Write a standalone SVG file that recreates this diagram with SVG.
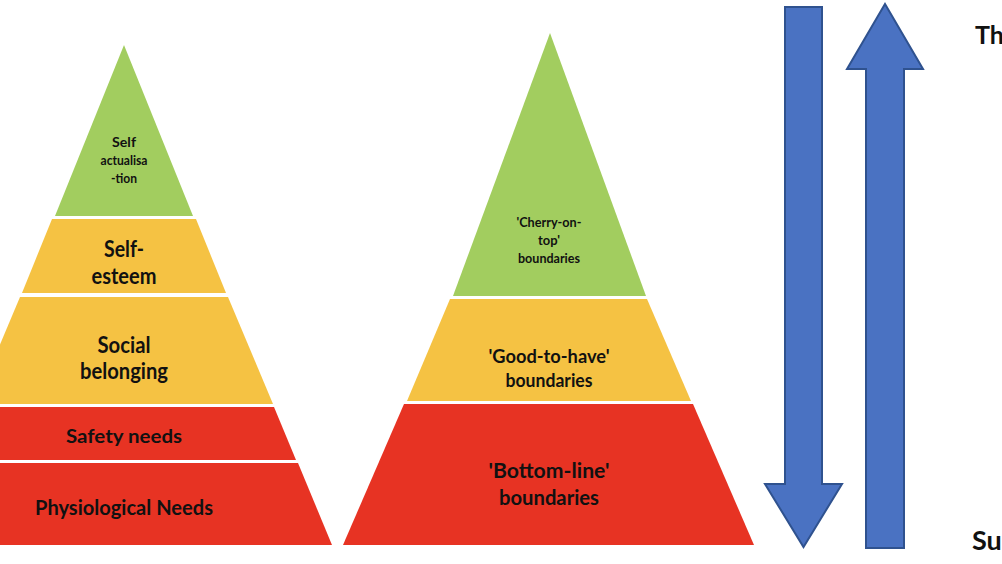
<svg xmlns="http://www.w3.org/2000/svg" width="1002" height="564" viewBox="0 0 1002 564">
<style>
.g{fill:#A2CD5F}
.y{fill:#F5C243}
.r{fill:#E73323}
.arr{fill:#4A72C2;stroke:#2F528F;stroke-width:2;stroke-linejoin:miter}
text{font-family:Lato,"Open Sans","Liberation Sans",sans-serif;font-weight:bold;fill:#111;text-anchor:middle}
</style>
<rect width="1002" height="564" fill="#fff"/>
<g id="maslow">
<g id="self-actualisation">
<polygon class="g" points="124,45 193,216 55,216"/>
<text font-size="13.5"><tspan x="124" y="147" textLength="24" lengthAdjust="spacingAndGlyphs">Self</tspan><tspan x="124" y="165" textLength="47" lengthAdjust="spacingAndGlyphs">actualisa</tspan><tspan x="124" y="183" textLength="26" lengthAdjust="spacingAndGlyphs">-tion</tspan></text>
</g>
<g id="self-esteem">
<polygon class="y" points="52,219 196,219 226,293 22,293"/>
<text font-size="22"><tspan x="124" y="257" textLength="40" lengthAdjust="spacingAndGlyphs">Self-</tspan><tspan x="124" y="284" textLength="65" lengthAdjust="spacingAndGlyphs">esteem</tspan></text>
</g>
<g id="social-belonging">
<polygon class="y" points="20,297 228,297 273,404 -25,404"/>
<text font-size="22"><tspan x="124" y="353" textLength="53" lengthAdjust="spacingAndGlyphs">Social</tspan><tspan x="124" y="379" textLength="88" lengthAdjust="spacingAndGlyphs">belonging</tspan></text>
</g>
<g id="safety-needs">
<polygon class="r" points="-26,407 274,407 296,460 -48,460"/>
<text x="124" y="443" font-size="19" textLength="116" lengthAdjust="spacingAndGlyphs">Safety needs</text>
</g>
<g id="physiological-needs">
<polygon class="r" points="-50,463 298,463 332,545 -84,545"/>
<text x="124" y="515" font-size="20" textLength="178" lengthAdjust="spacingAndGlyphs">Physiological Needs</text>
</g>
</g>
<g id="boundaries">
<g id="cherry-on-top">
<polygon class="g" points="550,33 646,296 453,296"/>
<text font-size="13.5"><tspan x="549" y="227" textLength="65" lengthAdjust="spacingAndGlyphs">'Cherry-on-</tspan><tspan x="549" y="245" textLength="22" lengthAdjust="spacingAndGlyphs">top'</tspan><tspan x="549" y="263" textLength="62" lengthAdjust="spacingAndGlyphs">boundaries</tspan></text>
</g>
<g id="good-to-have">
<polygon class="y" points="450,299 647,299 691,401 407,401"/>
<text font-size="19"><tspan x="549" y="363" textLength="121" lengthAdjust="spacingAndGlyphs">'Good-to-have'</tspan><tspan x="549" y="387" textLength="87" lengthAdjust="spacingAndGlyphs">boundaries</tspan></text>
</g>
<g id="bottom-line">
<polygon class="r" points="404,404 693,404 754,545 343,545"/>
<text font-size="21.5"><tspan x="549" y="478" textLength="121" lengthAdjust="spacingAndGlyphs">'Bottom-line'</tspan><tspan x="549" y="505" textLength="100" lengthAdjust="spacingAndGlyphs">boundaries</tspan></text>
</g>
</g>
<g id="connectors">
<polygon id="arrow-down" class="arr" points="785,7 822,7 822,484 842,484 803.5,547 765,484 785,484"/>
<polygon id="arrow-up" class="arr" points="885,4 923,69 904,69 904,548 866,548 866,69 847,69"/>
</g>
<g id="labels">
<text x="975" y="44" font-size="25" style="text-anchor:start">Th</text>
<text x="972" y="550" font-size="27" style="text-anchor:start">Su</text>
</g>
</svg>
